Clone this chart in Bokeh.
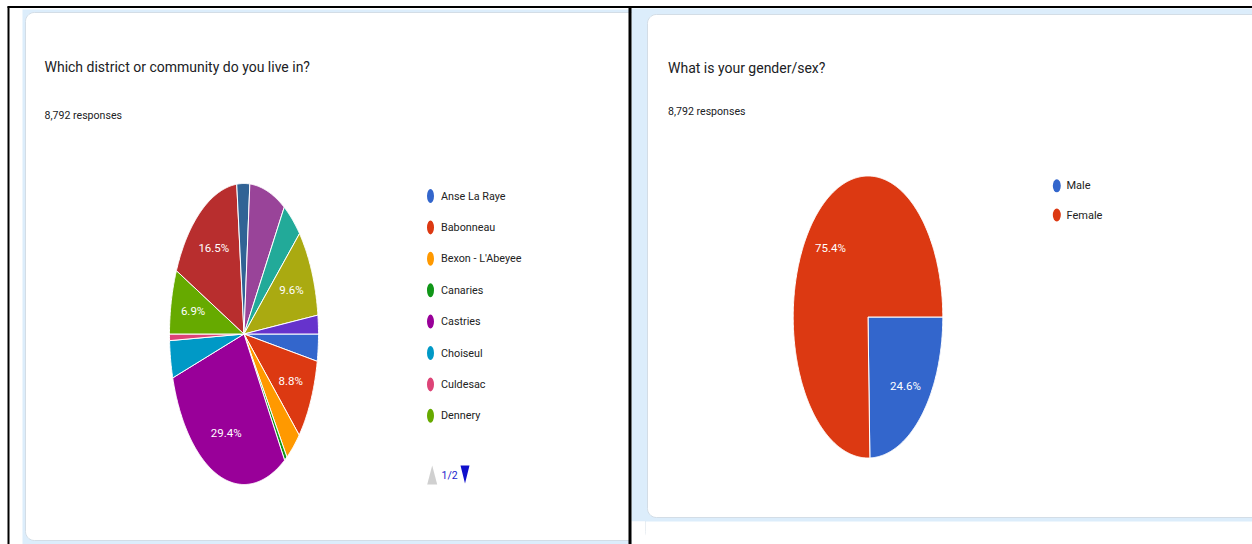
import numpy as np
from bokeh.plotting import figure
from bokeh.models import Range1d
from bokeh.core.properties import value
from bokeh.embed import file_html
from bokeh.resources import INLINE

# ---------------- data ----------------
district_title = "Which district or community do you live in?"
gender_title = "What is your gender/sex?"
responses_text = "8,792 responses"

district_names = ["Anse La Raye", "Babonneau", "Bexon - L'Abeyee", "Canaries", "Castries",
                  "Choiseul", "Culdesac", "Dennery", "Gros Islet", "Laborie", "Micoud",
                  "Soufriere", "Vieux Fort", "Other"]
district_pct = [2.9, 8.8, 3.5, 0.6, 29.4, 4.0, 0.7, 6.9, 16.5, 2.8, 7.8, 4.3, 9.6, 2.0]
district_labels = ["", "8.8%", "", "", "29.4%", "", "", "6.9%", "16.5%", "", "", "", "9.6%", ""]
legend_page = "1/2"
legend_count = 8

gender_names = ["Male", "Female"]
gender_pct = [24.6, 75.4]
gender_labels = ["24.6%", "75.4%"]

palette = ["#3366cc", "#dc3912", "#ff9900", "#109618", "#990099", "#0099c6", "#dd4477",
           "#66aa00", "#b82e2e", "#316395", "#994499", "#22aa99", "#aaaa11", "#6633cc"]

FONT = "Roboto"
BAND = "#dcedfb"

p = figure(width=1252, height=544, x_range=Range1d(0, 1252), y_range=Range1d(544, 0),
           output_backend="svg", toolbar_location=None, min_border=0,
           x_axis_location=None, y_axis_location=None)
p.grid.visible = False
p.outline_line_color = None
p.background_fill_color = "white"
p.border_fill_color = "white"


def rrect(x0, y0, x1, y1, r, n=10):
    pts_x, pts_y = [], []
    corners = [(x1 - r, y0 + r, -90, 0), (x1 - r, y1 - r, 0, 90),
               (x0 + r, y1 - r, 90, 180), (x0 + r, y0 + r, 180, 270)]
    for cx, cy, a0, a1 in corners:
        t = np.radians(np.linspace(a0, a1, n))
        pts_x += list(cx + r * np.cos(t))
        pts_y += list(cy + r * np.sin(t))
    return pts_x, pts_y


# left card
p.quad(left=[22], right=[640], top=[9], bottom=[544], fill_color=BAND, line_color=None)
cx1, cy1 = rrect(25, 12, 645, 540, 9)
p.patch(x=cx1, y=cy1, fill_color="white", line_color="#d3dde6", line_width=1)
# right card
p.quad(left=[631, 631], right=[1252, 645], top=[8, 521], bottom=[521, 544],
       fill_color=[BAND, "white"], line_color=None)
cx2, cy2 = rrect(647, 14, 1262, 517, 9)
p.patch(x=cx2, y=cy2, fill_color="white", line_color="#d3dde6", line_width=1)

# table lines
p.segment(x0=[7, 8, 629.5], y0=[6.5, 6, 6], x1=[1252, 8, 629.5], y1=[6.5, 544, 544],
          line_color="black", line_width=[2, 2, 3])


def pie(cx, cy, rx, ry, vals, colors, labels, start=90.0, lab_r=0.7, size="11.5px"):
    vals = np.asarray(vals, dtype=float)
    frac = vals / vals.sum()
    ends = start + np.cumsum(frac) * 360.0
    starts = ends - frac * 360.0
    xs, ys, lx, ly = [], [], [], []
    for a0, a1 in zip(starts, ends):
        t = np.radians(np.linspace(a0, a1, max(int((a1 - a0) * 2), 3)))
        xs.append([cx] + list(cx + rx * np.sin(t)) + [cx])
        ys.append([cy] + list(cy - ry * np.cos(t)) + [cy])
        m = np.radians((a0 + a1) / 2)
        lx.append(cx + lab_r * rx * np.sin(m))
        ly.append(cy - lab_r * ry * np.cos(m))
    p.patches(xs=xs, ys=ys, fill_color=colors, line_color="white", line_width=1)
    p.text(x=lx, y=ly, text=labels, text_color="white", text_font=value(FONT),
           text_font_size=size, text_align="center", text_baseline="middle")


pie(243.5, 333.5, 74.5, 150.5, district_pct, palette[:len(district_pct)], district_labels)
pie(867.5, 316.5, 74.8, 141.0, gender_pct, palette[:2], gender_labels)

# titles
p.text(x=[44, 667.5], y=[66.5, 67], text=[district_title, gender_title], text_color="#202124",
       text_font=value(FONT), text_font_size="14px", text_baseline="middle", text_align="left")
p.text(x=[44, 667.5], y=[114.5, 111], text=[responses_text, responses_text], text_color="#202124",
       text_font=value(FONT), text_font_size="10.6px", text_baseline="middle", text_align="left")

# left legend
ly = [195.5 + 31.4 * i for i in range(legend_count)]
p.ellipse(x=[430] * legend_count, y=ly, width=7, height=14,
          fill_color=palette[:legend_count], line_color=None)
p.text(x=[440.5] * legend_count, y=ly, text=district_names[:legend_count],
       text_color="#222222", text_font=value(FONT), text_font_size="10.8px",
       text_baseline="middle", text_align="left")

# pager
p.patches(xs=[[426.7, 431.7, 436.7], [460, 469, 464.5]], ys=[[484, 465, 484], [465, 465, 483]],
          fill_color=["#d0d0d0", "#1010cc"], line_color=None)
p.text(x=[441], y=[475], text=[legend_page], text_color="#1a22cc", text_font=value(FONT),
       text_font_size="10.5px", text_baseline="middle", text_align="left")

# right legend
gy = [185.3, 214.5]
p.ellipse(x=[1056.3] * 2, y=gy, width=8, height=13, fill_color=palette[:2], line_color=None)
p.text(x=[1066] * 2, y=gy, text=gender_names, text_color="#222222",
       text_font=value(FONT), text_font_size="11px", text_baseline="middle", text_align="left")

open("out.html", "w").write(file_html(p, INLINE))
